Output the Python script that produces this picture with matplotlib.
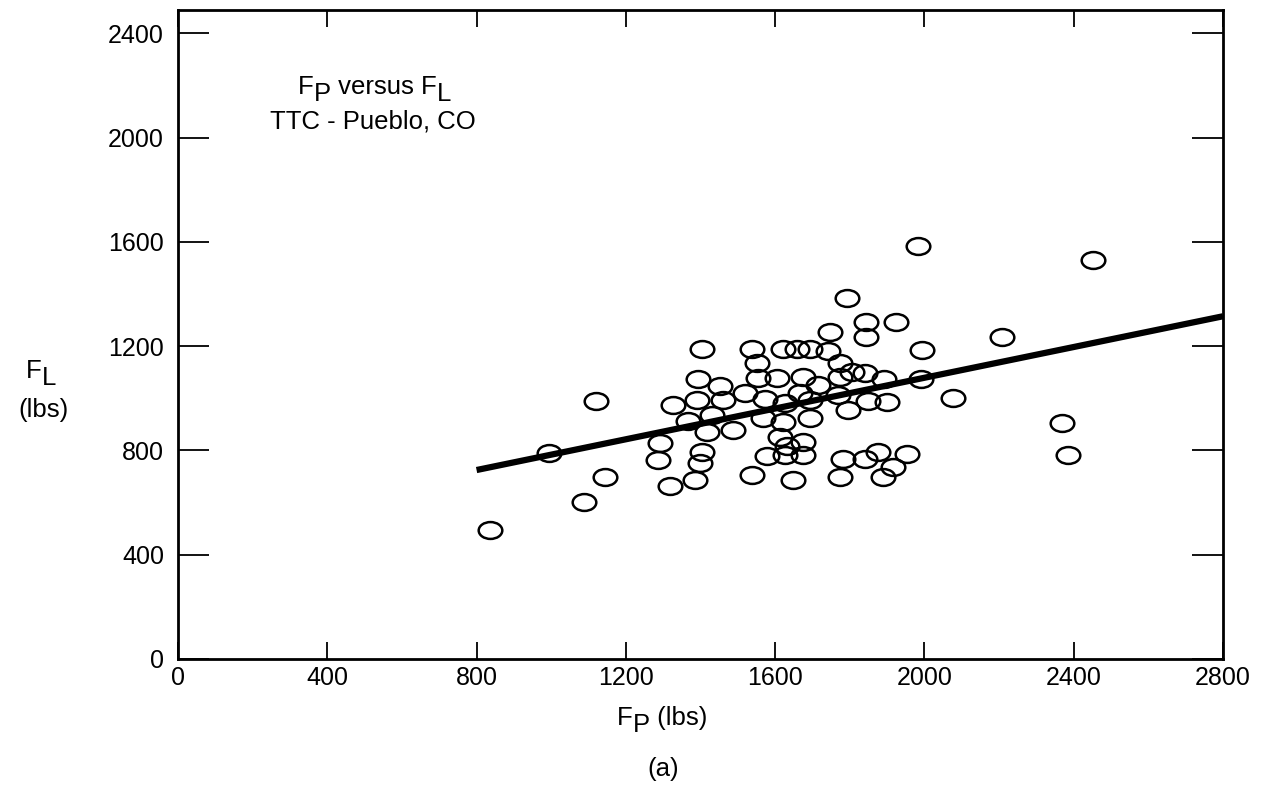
import matplotlib
matplotlib.use('Agg')
import matplotlib.pyplot as plt
import matplotlib.path as mpath
from matplotlib.transforms import Affine2D

plt.rcParams['font.family'] = ['Liberation Sans', 'DejaVu Sans']

# measured pairs, F_P (lbs) and F_L (lbs)
fp = [836, 994, 1088, 1144, 1120, 1292, 1286, 1318, 1385, 1404,
      1399, 1326, 1393, 1404, 1367, 1417, 1391, 1452, 1460, 1431,
      1487, 1519, 1538, 1551, 1554, 1573, 1567, 1538, 1578, 1613,
      1621, 1659, 1693, 1742, 1774, 1747, 1843, 1843, 1924, 1993,
      1793, 1983, 2452, 2208, 2077, 2369, 2385, 1605, 1675, 1715,
      1774, 1806, 1841, 1892, 1991, 1626, 1667, 1693, 1768, 1795,
      1849, 1900, 1621, 1693, 1632, 1675, 1626, 1675, 1648, 1782,
      1841, 1774, 1876, 1916, 1889, 1953]
fl = [495, 791, 603, 699, 991, 829, 764, 664, 687, 795,
      753, 975, 1075, 1190, 914, 872, 995, 1048, 995, 937,
      879, 1021, 1190, 1137, 1079, 998, 925, 707, 780, 852,
      1190, 1190, 1190, 1183, 1137, 1256, 1236, 1294, 1294, 1187,
      1386, 1586, 1532, 1236, 1002, 906, 783, 1079, 1083, 1052,
      1083, 1102, 1098, 1075, 1075, 983, 1021, 995, 1014, 956,
      991, 987, 910, 925, 818, 833, 783, 783, 687, 768,
      768, 699, 795, 737, 699, 787]

# regression line end points
fit_x = [800, 2800]
fit_y = [725, 1315]

xticks = [0, 400, 800, 1200, 1600, 2000, 2400, 2800]
yticks = [0, 400, 800, 1200, 1600, 2000, 2400]

W, H = 1268, 809
FS = 18.5
DROP = 5


def chain(fig, px, py, parts, fs=FS):
    # parts: list of (text, is_subscript); px, py = left/baseline in pixels from top-left
    prev = fig.text(px / W, 1 - py / H, parts[0][0], fontsize=fs,
                    ha='left', va='baseline')
    prev_sub = parts[0][1]
    for s, sub in parts[1:]:
        dy = 0
        if sub and not prev_sub:
            dy = -DROP
        elif prev_sub and not sub:
            dy = DROP
        prev = fig.text(0, 0, '', fontsize=fs) if False else plt.annotate(
            s, xy=(1, 0), xycoords=prev, xytext=(0, dy), textcoords='offset points',
            ha='left', va='bottom', fontsize=fs, annotation_clip=False)
        prev_sub = sub
    return prev


fig = plt.figure(figsize=(W / 100, H / 100), dpi=100)
ax = fig.add_axes([178 / W, 1 - 659 / H, 1045 / W, 649 / H])

ellipse = mpath.Path.unit_circle().transformed(Affine2D().scale(1.4, 1.0))

ax.plot(fp, fl, linestyle='none', marker=ellipse, markersize=17,
        markerfacecolor='none', markeredgecolor='black', markeredgewidth=1.8)
ax.plot(fit_x, fit_y, color='black', linewidth=4.5, solid_capstyle='butt')

ax.set_xlim(0, 2800)
ax.set_ylim(0, 2490)
ax.set_xticks(xticks)
ax.set_yticks(yticks)
ax.tick_params(axis='both', direction='in', labelsize=18, width=1.3,
               top=True, right=True)
ax.tick_params(axis='x', length=12, pad=5)
ax.tick_params(axis='y', length=22, pad=10)
for s in ax.spines.values():
    s.set_linewidth(2)

chain(fig, 298, 94, [('F', False), ('P', True), (' versus F', False), ('L', True)])
fig.text(270 / W, 1 - 128 / H, 'TTC - Pueblo, CO', fontsize=FS, ha='left', va='baseline')

chain(fig, 26, 378, [('F', False), ('L', True)])
fig.text(44 / W, 1 - 417 / H, '(lbs)', fontsize=FS, ha='center', va='baseline')
chain(fig, 617, 725, [('F', False), ('P', True), (' (lbs)', False)])
fig.text(663 / W, 1 - 776 / H, '(a)', fontsize=FS, ha='center', va='baseline')

fig.savefig('out.png', dpi=100, facecolor='white')
